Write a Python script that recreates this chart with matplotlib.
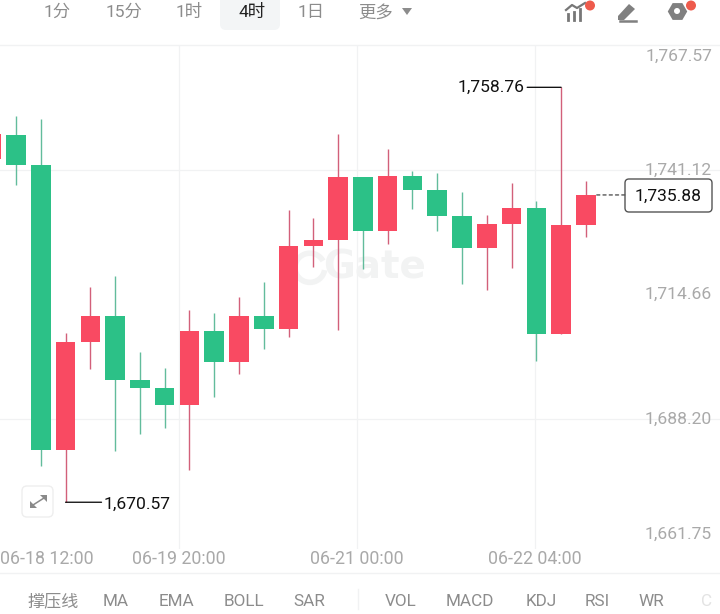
import matplotlib
matplotlib.use("Agg")
import matplotlib.pyplot as plt
from matplotlib.patches import FancyBboxPatch, Circle, Polygon, Arc

plt.rcParams['font.family'] = ['Roboto', 'Noto Sans CJK SC', 'DejaVu Sans']

# 4h candles, oldest first
opens = [1743.52, 1748.62, 1742.35, 1681.61, 1704.56, 1710.15, 1696.61, 1694.87, 1691.24, 1706.96,
         1700.38, 1710.15, 1707.39, 1725.09, 1726.24, 1739.70, 1728.28, 1739.91, 1737.00, 1731.47,
         1724.61, 1729.71, 1733.17, 1706.26, 1729.49]
highs = [1748.84, 1752.66, 1751.96, 1706.48, 1716.25, 1718.65, 1702.44, 1699.16, 1711.43, 1710.85,
         1714.26, 1717.32, 1732.68, 1730.92, 1748.77, 1739.70, 1745.65, 1740.97, 1740.48, 1736.51,
         1731.62, 1738.36, 1734.53, 1758.76, 1738.78]
lows = [1743.52, 1738.06, 1678.34, 1670.57, 1698.82, 1681.40, 1685.01, 1686.29, 1677.49, 1693.00,
        1697.76, 1703.20, 1705.75, 1720.63, 1707.24, 1720.14, 1725.52, 1732.89, 1728.28, 1717.02,
        1715.62, 1720.42, 1700.59, 1706.26, 1727.01]
closes = [1748.84, 1742.35, 1681.61, 1704.56, 1710.15, 1696.61, 1694.87, 1691.24, 1706.96, 1700.38,
          1710.15, 1707.39, 1725.09, 1726.24, 1739.70, 1728.28, 1739.91, 1737.00, 1731.47, 1724.61,
          1729.71, 1733.17, 1706.26, 1729.43, 1735.88]

price_ticks = [1767.57, 1741.12, 1714.66, 1688.20, 1661.75]
price_labels = ['1,767.57', '1,741.12', '1,714.66', '1,688.20', '1,661.75']
grid_prices = [1741.12, 1688.20]
grid_slots = [7.56, 14.75, 21.94]
time_slots = [2.25, 7.56, 14.75, 21.94]
time_labels = ['06-18 12:00', '06-19 20:00', '06-21 00:00', '06-22 04:00']
period_tabs = ['1分', '15分', '1时', '4时', '1日', '更多']
period_x = [57, 124, 189, 252, 311, 376]
indicators = ['撑压线', 'MA', 'EMA', 'BOLL', 'SAR', 'VOL', 'MACD', 'KDJ', 'RSI', 'WR', 'C']
indicator_x = [53, 116, 176, 244, 309, 401, 470, 541, 597, 651, 707]

UP = '#F94A62'
DOWN = '#2CC187'
UP_WICK = '#D2607A'
DOWN_WICK = '#62BC9C'
GRID = '#F1F2F3'
AXIS_TEXT = '#A9A9A9'
UI_TEXT = '#8C8C8C'
FS = 12.6

W, H = 720, 614
fig = plt.figure(figsize=(W / 100, H / 100), dpi=100, facecolor='white')

# price pane
top, bottom = 45, 549
ax = fig.add_axes([0, (H - bottom) / H, 1, (bottom - top) / H])
ax.set_xlim(0.355, 29.41)
ax.set_ylim(1660.63, 1767.75)
ax.axis('off')

for p in grid_prices:
    ax.axhline(p, color=GRID, lw=0.9, zorder=0)
for s in grid_slots:
    ax.axvline(s, color=GRID, lw=0.9, zorder=0)

# watermark behind the candles
ax.text(15.45, 1720.4, 'Gate', color='#F2F3F3', fontsize=28, fontweight='bold',
        ha='center', va='center', family='DejaVu Sans', zorder=1)
ax.add_patch(Arc((12.86, 1720.4), 1.2, 6.2, theta1=70, theta2=320, color='#F2F3F3', lw=4, zorder=1))

for i in range(len(opens)):
    rising = closes[i] >= opens[i]
    ax.vlines(i, lows[i], highs[i], color=UP_WICK if rising else DOWN_WICK, lw=1.0, zorder=2)
    ax.bar(i, abs(closes[i] - opens[i]), bottom=min(opens[i], closes[i]), width=0.79,
           color=UP if rising else DOWN, zorder=3)

# axis labels sit inside the pane, the outer two are pushed inward
offsets = [-10, 0, 0, 0, 9]
for p, lab, off in zip(price_ticks, price_labels, offsets):
    ax.annotate(lab, xy=(1, p), xycoords=('axes fraction', 'data'), xytext=(-8 * 0.72, off * 0.72),
                textcoords='offset points', ha='right', va='center', color=AXIS_TEXT, fontsize=FS, zorder=5)

# high / low callouts
hi = highs.index(max(highs))
lo = lows.index(min(lows))
ax.annotate('1,758.76', xy=(hi, highs[hi]), xytext=(-37 * 0.72, 0), textcoords='offset points',
            ha='right', va='center', color='#111111', fontsize=FS, zorder=6)
ax.annotate('', xy=(hi, highs[hi]), xytext=(-34 * 0.72, 0), textcoords='offset points',
            arrowprops=dict(arrowstyle='-', color='black', lw=0.9, shrinkA=0, shrinkB=0))
ax.annotate('1,670.57', xy=(lo, lows[lo]), xytext=(38 * 0.72, -2 * 0.72), textcoords='offset points',
            ha='left', va='center', color='#111111', fontsize=FS, zorder=6)
ax.annotate('', xy=(lo, lows[lo]), xytext=(36 * 0.72, 0), textcoords='offset points',
            arrowprops=dict(arrowstyle='-', color='black', lw=0.9, shrinkA=0, shrinkB=0))

# last price marker
last = closes[-1]
ax.annotate('', xy=(len(closes) - 1 + 0.4, last), xytext=(29 * 0.72, 0), textcoords='offset points',
            arrowprops=dict(arrowstyle='-', color='#444444', lw=0.9, ls=(0, (2.5, 2.5)), shrinkA=0, shrinkB=0))
ax.annotate('1,735.88', xy=(len(closes) - 1 + 0.4, last), xytext=(72 * 0.72, -1.5 * 0.72), textcoords='offset points',
            ha='center', va='center', color='#111111', fontsize=FS, zorder=7)

# chrome around the pane, in pixel coordinates
ui = fig.add_axes([0, 0, 1, 1], facecolor='none')
ui.set_xlim(0, W)
ui.set_ylim(H, 0)
ui.axis('off')

ui.add_patch(FancyBboxPatch((625, 179), 87, 33, boxstyle='round,pad=0,rounding_size=4',
                            fc='none', ec='#555555', lw=1.0, zorder=6))

ui.plot([0, W], [45, 45], color=GRID, lw=1.0)
ui.plot([0, W], [573, 573], color=GRID, lw=1.0)

ui.add_patch(FancyBboxPatch((220, -8), 60, 38, boxstyle='round,pad=0,rounding_size=6',
                            fc='#F3F5F6', ec='none'))
for name, x in zip(period_tabs, period_x):
    ui.text(x, 12.5, name, ha='center', va='center', fontsize=12.5,
            color='#222222' if name == '4时' else UI_TEXT)
ui.add_patch(Polygon([[402, 8], [412, 8], [407, 15]], fc=UI_TEXT, ec='none'))

# indicators chart icon
for x, y0 in zip([568, 574, 580], [14, 12, 9]):
    ui.plot([x, x], [y0, 20], color='#777777', lw=2.0)
ui.plot([566, 572, 577, 585], [10, 5, 8, 3], color='#777777', lw=1.6)
ui.add_patch(Circle((590, 5.5), 5, fc='#EE5B4C', ec='none', zorder=4))

# pencil icon
ui.add_patch(Polygon([[618, 16], [629, 4], [635, 9], [624, 20], [618, 20]], fc='#808080', ec='none'))
ui.plot([620, 636], [20.5, 20.5], color='#808080', lw=1.8)

# gear icon
ui.plot(677, 11, marker='H', ms=14, color='#808080', mew=0, zorder=3)
ui.add_patch(Circle((677, 11), 3, fc='white', ec='none', zorder=4))
ui.add_patch(Circle((691, 5.5), 5, fc='#EE5B4C', ec='none', zorder=4))

# expand button
ui.add_patch(FancyBboxPatch((22, 486), 31, 31, boxstyle='round,pad=0,rounding_size=5',
                            fc='white', ec='#EEEEEE', lw=1.0))
ui.add_patch(Polygon([[40, 495], [47, 495], [47, 502]], fc='#8A8A8A', ec='none'))
ui.add_patch(Polygon([[30, 501], [30, 508], [37, 508]], fc='#8A8A8A', ec='none'))
ui.plot([33, 44], [505, 498], color='#8A8A8A', lw=1.1)

# time axis labels
for s, lab in zip(time_slots, time_labels):
    ax.annotate(lab, xy=(s, 0), xycoords=('data', 'axes fraction'), xytext=(0, -10 * 0.72),
                textcoords='offset points', ha='center', va='center', color=AXIS_TEXT, fontsize=12.8,
                annotation_clip=False)

# indicator tabs
for name, x in zip(indicators, indicator_x):
    ui.text(x, 601, name, ha='center', va='center', fontsize=12.3,
            color='#E3E3E3' if name == 'C' else UI_TEXT)
ui.plot([358, 358], [589, 609], color=GRID, lw=1.0)

fig.savefig('out.png', dpi=100)
